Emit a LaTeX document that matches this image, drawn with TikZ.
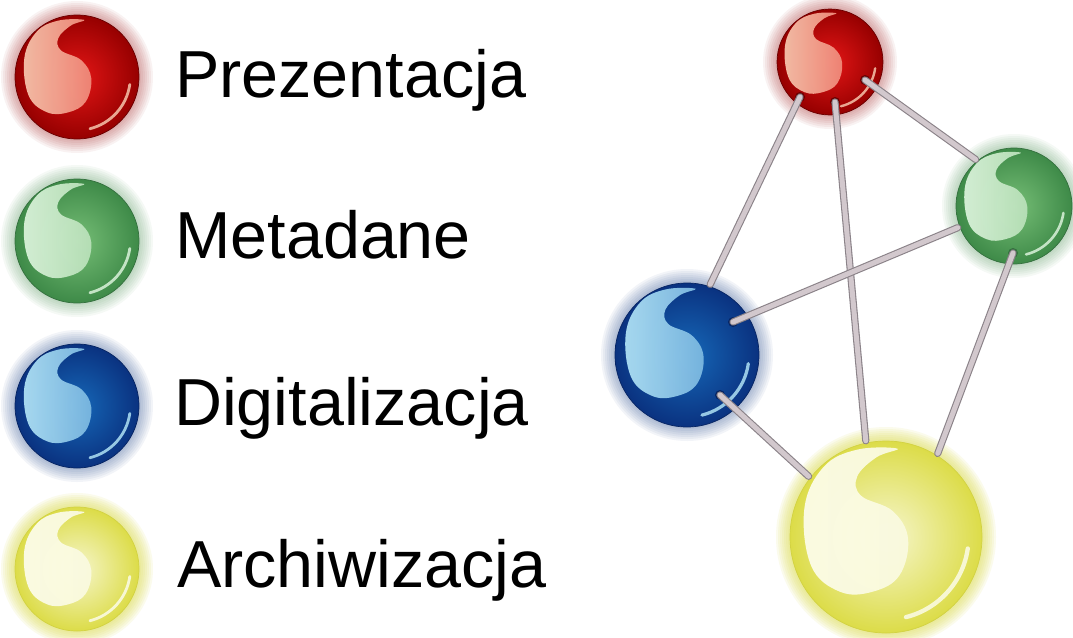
\documentclass[tikz,border=0pt]{standalone}
\usepackage{fontspec}
\setmainfont{Liberation Sans}

\definecolor{prezC}{RGB}{228,22,22}
\definecolor{prezE}{RGB}{150,0,0}
\definecolor{prezR}{RGB}{105,0,0}
\definecolor{prezH}{RGB}{246,196,172}
\definecolor{metaC}{RGB}{118,190,118}
\definecolor{metaE}{RGB}{62,138,72}
\definecolor{metaR}{RGB}{52,112,62}
\definecolor{metaH}{RGB}{218,242,218}
\definecolor{digiC}{RGB}{22,104,184}
\definecolor{digiE}{RGB}{10,50,128}
\definecolor{digiR}{RGB}{6,36,98}
\definecolor{digiH}{RGB}{175,225,245}
\definecolor{archC}{RGB}{246,246,205}
\definecolor{archE}{RGB}{220,220,72}
\definecolor{archR}{RGB}{210,210,66}
\definecolor{archH}{RGB}{252,252,232}
\definecolor{rodfill}{RGB}{210,200,205}
\definecolor{rodedge}{RGB}{138,130,136}

\begin{document}
\begin{tikzpicture}[x=1pt, y=-1pt,
	glass/.style n args={5}{circle,inner sep=0pt,minimum size=2*#1pt,draw=#4,line width=0.7pt,
		inner color=#2,outer color=#3,
		path picture={
			\begin{scope}[shift={(path picture bounding box.center)},x=#1pt,y=#1pt]
				\shade[left color=#5,right color=#5!65!#2,opacity=0.95]
					plot[smooth cycle,tension=0.65] coordinates {(-0.85,0.30) (-0.78,-0.30) (-0.48,-0.57) (-0.14,-0.57) (0.14,-0.40) (0.23,-0.02) (0.07,0.27) (-0.26,0.43) (-0.30,0.63) (-0.10,0.83) (0.12,0.92) (-0.30,0.91) (-0.65,0.73)};
				\draw[#5,opacity=0.85,line width=0.045*#1pt,line cap=round]
					(-76:0.86) arc[start angle=-76,end angle=-8,radius=0.86];
			\end{scope}}},
	rod/.style={draw=rodedge,line width=1.1pt,double=rodfill,double distance=5pt,line cap=round,shorten >=2pt},
	hole/.style={fill=#1},
	legendtext/.style={anchor=base west,inner sep=0pt,font=\fontsize{66.5}{80}\selectfont},
]
	\useasboundingbox[fill=white] (0,0) rectangle (1073,637);

	% balls with their glow
	\foreach \n/\x/\y/\r/\c/\g in {
			keyprez/77/77/62/prez/0.05,
			keymeta/77/241/62/meta/0.05,
			keydigi/77/406/62/digi/0.05,
			keyarch/77/569/62/arch/0.10,
			prez/830/62/53/prez/0.05,
			meta/1014/206/58/meta/0.05,
			digi/687/355/72/digi/0.05,
			arch/886/537/96/arch/0.10}{
		\foreach \k in {1,...,7}
			\fill[\c E,opacity=\g] (\x,\y) circle ({\r+2*\k});
		\node[glass={\r}{\c C}{\c E}{\c R}{\c H}] (\n) at (\x,\y) {};
	}

	\node[legendtext] (tprez) at (175,97) {Prezentacja};
	\node[legendtext] (tmeta) at (175,258) {Metadane};
	\node[legendtext] (tdigi) at (174,425) {Digitalizacja};
	\node[legendtext] (tarch) at (177,587) {Archiwizacja};

	% rods, each starting inside one ball
	\coordinate (pd) at (800,97);
	\coordinate (pa) at (835,102);
	\coordinate (pm) at (865,80);
	\coordinate (dm) at (733,322);
	\coordinate (da) at (720,395);
	\coordinate (ma) at (1013,253);

	\fill[hole=prezR] (pd) circle (5);
	\fill[hole=prezR] (pa) circle (5);
	\fill[hole=prezR] (pm) circle (5);
	\fill[hole=digiR] (dm) circle (5);
	\fill[hole=digiR] (da) circle (5);
	\fill[hole=metaR] (ma) circle (5);

	\draw[rod] (pd) -- (digi.72);
	\draw[rod] (pa) -- (arch.102);
	\draw[rod] (pm) -- (meta.129);
	\draw[rod] (dm) -- (meta.201);
	\draw[rod] (da) -- (arch.142);
	\draw[rod] (ma) -- (arch.58);

\end{tikzpicture}
\end{document}
